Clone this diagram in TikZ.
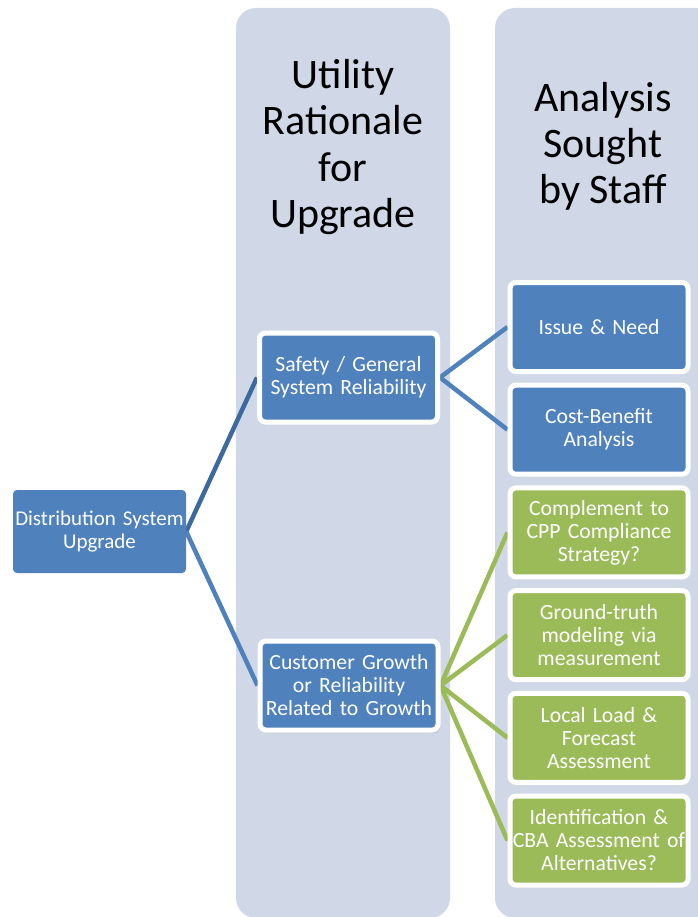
\documentclass[tikz,border=0pt]{standalone}
\usepackage{fontspec}
\setmainfont{Carlito}
\usepackage{tikz}
\usetikzlibrary{positioning}
\usetikzlibrary{shadows,backgrounds}
\definecolor{boxblue}{HTML}{4F81BD}
\definecolor{boxgreen}{HTML}{9BBB59}
\definecolor{colbg}{HTML}{D0D8E8}
\definecolor{linedark}{HTML}{3C6A9F}
\tikzset{blk/.style={fill=boxblue, text=white, rounded corners=6pt, minimum width=173pt, minimum height=84pt, text width=172pt, inner sep=0pt, align=center, font=\fontsize{21.7}{23}\selectfont}}
\tikzset{grn/.style={blk, fill=boxgreen}}
\tikzset{rim/.style={draw=white, line width=5pt, minimum width=178pt, minimum height=89pt}}
\tikzset{hdr/.style={align=center, font=\fontsize{42}{46}\selectfont}}
\tikzset{wire/.style={draw=boxblue, line width=4.5pt}}
\tikzset{gwire/.style={wire, draw=boxgreen}}

\begin{document}
\begin{tikzpicture}[x=1pt,y=-1pt,node distance=102.7pt]
   \useasboundingbox (0,0) rectangle (697,917);
   % columns
   \begin{scope}[on background layer]
      \fill[white] (0,0) rectangle (697,917);
      \fill[colbg, rounded corners=20pt] (236,8) rectangle (450,918);
      \fill[colbg, rounded corners=20pt] (495,8) rectangle (720,918);
   \end{scope}

   \node[hdr, anchor=base] (utl) at (343,227) {Utility\\Rationale\\for\\Upgrade};
   \node[hdr, anchor=base] (ana) at (603,204) {Analysis\\Sought\\by Staff};

   \node[blk, minimum height=83pt, rounded corners=4pt, font=\fontsize{21}{23}\selectfont] (dist) at (99.5,531.5) {Distribution System\\Upgrade};
   \node[blk, rim] (safe) at (348.5,377.5) {Safety / General\\System Reliability};
   \node[blk, rim, drop shadow={shadow xshift=2pt, shadow yshift=-3pt, opacity=0.25}] (cust) at (349,685.5) {Customer Growth\\or Reliability\\Related to Growth};

   \node[blk, rim] (issue) at (599,327) {Issue \& Need};
   \node[blk, rim] (cba)  [below of=issue] {Cost-Benefit\\Analysis};
   \node[grn, rim] (cpp)  [below of=cba]   {Complement to\\CPP Compliance\\Strategy?};
   \node[grn, rim] (gnd)  [below of=cpp]   {Ground-truth\\modeling via\\measurement};
   \node[grn, rim] (load) [below of=gnd]   {Local Load \&\\Forecast\\Assessment};
   \node[grn, rim] (alt)  [below of=load]  {Identification \&\\\makebox[0pt]{CBA Assessment of}\\Alternatives?};

   % connectors
   \begin{scope}[on background layer]
      \draw[wire, draw=linedark] (dist.east) -- (safe.west);
      \draw[wire] (dist.east) -- (cust.west);
      \draw[wire] (safe.east) -- (issue.west);
      \draw[wire] (safe.east) -- (cba.west);
      \draw[gwire] (cust.east) -- (cpp.west);
      \draw[gwire] (cust.east) -- (gnd.west);
      \draw[gwire] (cust.east) -- (load.west);
      \draw[gwire] (cust.east) -- (alt.west);
   \end{scope}
\end{tikzpicture}
\end{document}
